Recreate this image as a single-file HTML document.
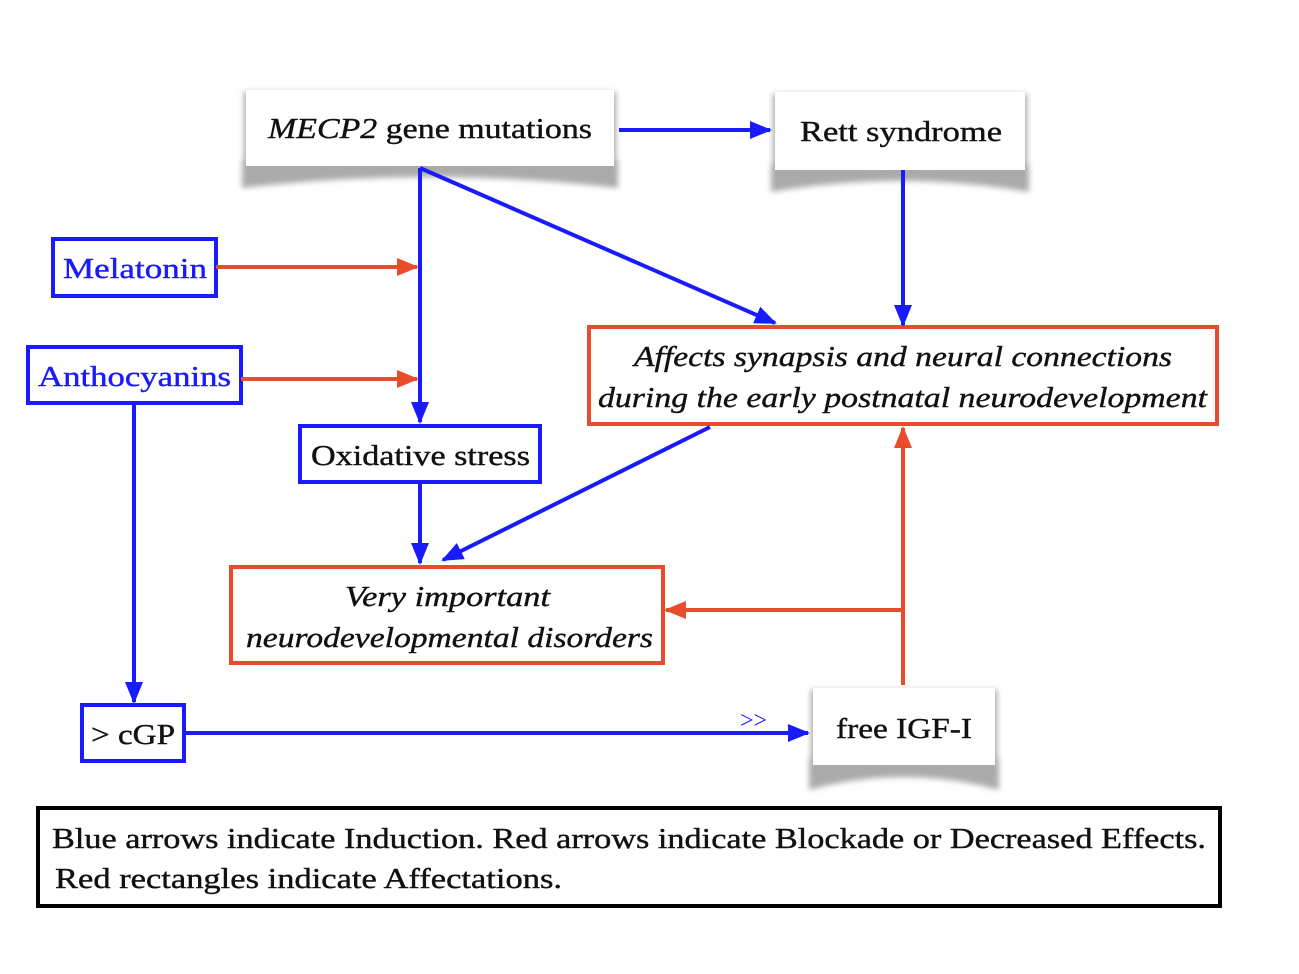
<!DOCTYPE html>
<html><head><meta charset="utf-8"><style>
body{margin:0;background:#fff}
svg{display:block}
text{font-family:"Liberation Serif",serif;font-size:29px;fill:#111;stroke:#111;stroke-width:0.4}
</style></head><body>
<svg width="1299" height="974" viewBox="0 0 1299 974" xmlns="http://www.w3.org/2000/svg">
<defs>
<filter id="b" x="-10%" y="-50%" width="120%" height="200%"><feGaussianBlur stdDeviation="3"/></filter>
<marker id="ab" markerWidth="22" markerHeight="18" refX="20" refY="9" orient="auto" markerUnits="userSpaceOnUse" viewBox="0 0 22 18"><path d="M0,0 L22,9 L0,18z" fill="#1a1aff"/></marker>
<marker id="ar" markerWidth="22" markerHeight="18" refX="20" refY="9" orient="auto" markerUnits="userSpaceOnUse" viewBox="0 0 22 18"><path d="M0,0 L22,9 L0,18z" fill="#e84c2a"/></marker>
</defs>
<g filter="url(#b)" fill="#aaa">
<path d="M242,160 L618,160 L618,188 Q430,166 242,188 Z"/>
<path d="M771,164 L1029,164 L1029,192 Q900,170 771,192 Z"/>
<path d="M809,758 L999,758 L999,790 Q904,764 809,790 Z"/>
<rect x="244" y="92" width="372" height="72"/>
<rect x="773" y="94" width="254" height="74"/>
<rect x="811" y="690" width="186" height="73"/>
</g>
<rect x="246" y="90" width="368" height="76" fill="#fff"/>
<rect x="775" y="92" width="250" height="78" fill="#fff"/>
<rect x="813" y="688" width="182" height="77" fill="#fff"/>
<text x="268" y="138" textLength="324" lengthAdjust="spacingAndGlyphs"><tspan font-style="italic">MECP2</tspan> gene mutations</text>
<text x="800" y="141" textLength="202" lengthAdjust="spacingAndGlyphs">Rett syndrome</text>
<text x="836" y="738" textLength="136" lengthAdjust="spacingAndGlyphs">free IGF-I</text>
<g fill="none" stroke="#1a1aff" stroke-width="4">
<rect x="53" y="239" width="163" height="57"/>
<rect x="28" y="347" width="213" height="56"/>
<rect x="300" y="426" width="240" height="56"/>
<rect x="82" y="705" width="102" height="56"/>
</g>
<text x="63" y="278" textLength="144" lengthAdjust="spacingAndGlyphs" style="fill:#1a1aff;stroke:#1a1aff">Melatonin</text>
<text x="38" y="386" textLength="193" lengthAdjust="spacingAndGlyphs" style="fill:#1a1aff;stroke:#1a1aff">Anthocyanins</text>
<text x="311" y="465" textLength="219" lengthAdjust="spacingAndGlyphs">Oxidative stress</text>
<text x="91" y="744" textLength="84" lengthAdjust="spacingAndGlyphs">&gt; cGP</text>
<g fill="none" stroke="#e84c2a" stroke-width="4">
<rect x="589" y="327" width="628" height="97"/>
<rect x="231" y="567" width="432" height="96"/>
</g>
<text x="634" y="366" font-style="italic" textLength="538" lengthAdjust="spacingAndGlyphs">Affects synapsis and neural connections</text>
<text x="598" y="407" font-style="italic" textLength="609" lengthAdjust="spacingAndGlyphs">during the early postnatal neurodevelopment</text>
<text x="345" y="606" font-style="italic" textLength="205" lengthAdjust="spacingAndGlyphs">Very important</text>
<text x="246" y="647" font-style="italic" textLength="407" lengthAdjust="spacingAndGlyphs">neurodevelopmental disorders</text>
<g stroke="#1a1aff" stroke-width="4" fill="none" marker-end="url(#ab)">
<line x1="619" y1="130" x2="770" y2="130"/>
<line x1="420" y1="168" x2="420" y2="422"/>
<line x1="420" y1="168" x2="775" y2="323"/>
<line x1="903" y1="170" x2="903" y2="325"/>
<line x1="420" y1="482" x2="420" y2="563"/>
<line x1="710" y1="427" x2="443" y2="560"/>
<line x1="134" y1="403" x2="134" y2="702"/>
<line x1="184" y1="733" x2="808" y2="733"/>
</g>
<text x="740" y="728" style="fill:#1a1aff;stroke:none;font-size:24px">&gt;&gt;</text>
<g stroke="#e84c2a" stroke-width="4" fill="none">
<line x1="216" y1="267" x2="417" y2="267" marker-end="url(#ar)"/>
<line x1="241" y1="379" x2="417" y2="379" marker-end="url(#ar)"/>
<line x1="903" y1="685" x2="903" y2="428" marker-end="url(#ar)"/>
<line x1="903" y1="610" x2="666" y2="610" marker-end="url(#ar)"/>
</g>
<rect x="38" y="808" width="1182" height="98" fill="none" stroke="#000" stroke-width="4"/>
<text x="52" y="848" textLength="1154" lengthAdjust="spacingAndGlyphs">Blue arrows indicate Induction. Red arrows indicate Blockade or Decreased Effects.</text>
<text x="55" y="888" textLength="507" lengthAdjust="spacingAndGlyphs">Red rectangles indicate Affectations.</text>
</svg>
</body></html>
